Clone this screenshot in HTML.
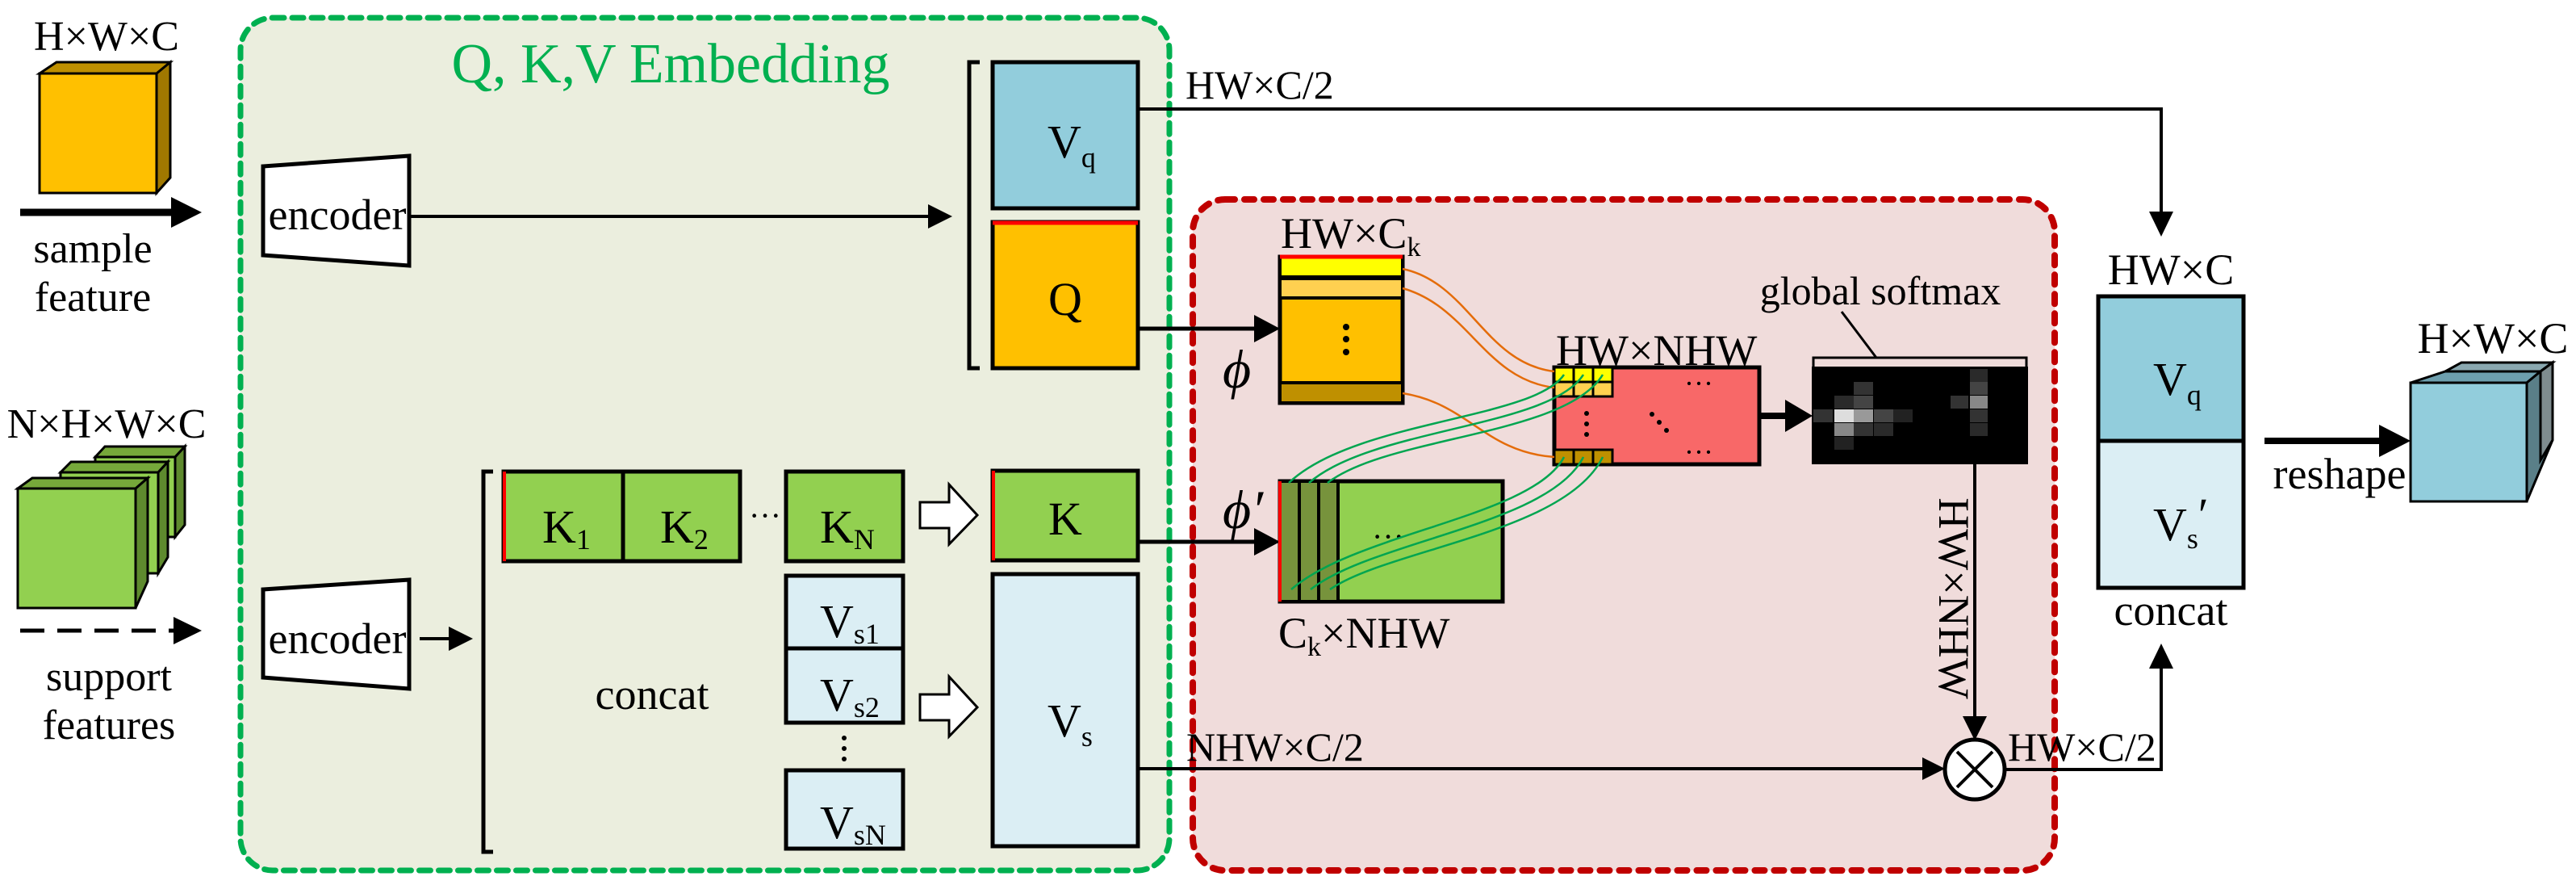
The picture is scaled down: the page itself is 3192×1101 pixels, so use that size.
<!DOCTYPE html>
<html><head><meta charset="utf-8"><style>
html,body{margin:0;padding:0;background:#fff;}
svg{display:block;}
svg text{font-family:"Liberation Serif","DejaVu Serif",serif;fill:#000;}
</style></head><body>
<svg width="3192" height="1101" viewBox="0 0 3192 1101" xmlns="http://www.w3.org/2000/svg">
<rect x="298" y="22" width="1151" height="1056" rx="40" fill="#ebeede" stroke="#00b050" stroke-width="7" stroke-dasharray="14,10" stroke-linecap="round"/>
<rect x="1478" y="247" width="1068" height="831" rx="40" fill="#f0dcdb" stroke="#c00000" stroke-width="8" stroke-dasharray="12,12" stroke-linecap="round"/>
<text x="831" y="102" font-size="70" text-anchor="middle" style="fill:#00b050">Q, K,V Embedding</text>

<polygon points="49,91 70,77 211,77 194,91" fill="#bf9000" stroke="#000" stroke-width="3"/>
<polygon points="194,91 211,77 211,220 194,239" fill="#a07800" stroke="#000" stroke-width="3"/>
<rect x="49" y="91" width="145" height="148" fill="#ffc000" stroke="#000" stroke-width="3"/>
<text x="132" y="62" font-size="52" text-anchor="middle">H×W×C</text>
<line x1="25" y1="263" x2="215" y2="263" stroke="#000" stroke-width="9"/>
<polygon points="250,263 212,244 212,282" fill="#000"/>
<text x="115" y="325" font-size="52" text-anchor="middle">sample</text>
<text x="115" y="385" font-size="52" text-anchor="middle">feature</text>

<text x="132" y="542" font-size="52" text-anchor="middle">N×H×W×C</text>
<g stroke="#000" stroke-width="3">
<polygon points="118,566 130,553 229,553 217,566" fill="#76a83a"/>
<polygon points="217,566 229,553 229,650 217,665" fill="#5e8a2e"/>
<rect x="118" y="566" width="99" height="99" fill="#92d050"/>
<polygon points="75,585 88,572 208,572 196,585" fill="#76a83a"/>
<polygon points="196,585 208,572 208,690 196,710" fill="#5e8a2e"/>
<rect x="75" y="585" width="121" height="125" fill="#92d050"/>
<polygon points="22,605 40,592 183,592 168,605" fill="#76a83a"/>
<polygon points="168,605 183,592 183,720 168,753" fill="#5e8a2e"/>
<rect x="22" y="605" width="146" height="148" fill="#92d050"/>
</g>
<line x1="25" y1="781" x2="215" y2="781" stroke="#000" stroke-width="5" stroke-dasharray="30,16"/>
<polygon points="250,781 215,764 215,798" fill="#000"/>
<text x="135" y="855" font-size="52" text-anchor="middle">support</text>
<text x="135" y="915" font-size="52" text-anchor="middle">features</text>

<polygon points="326,206 507,193 507,329 326,316" fill="#fff" stroke="#000" stroke-width="5"/>
<text x="418" y="284" font-size="54" text-anchor="middle">encoder</text>
<polygon points="326,730 507,718 507,853 326,839" fill="#fff" stroke="#000" stroke-width="5"/>
<text x="418" y="809" font-size="54" text-anchor="middle">encoder</text>
<line x1="507" y1="268" x2="1150" y2="268" stroke="#000" stroke-width="4"/>
<polygon points="1180,268 1150,253 1150,283" fill="#000"/>
<line x1="520" y1="791" x2="560" y2="791" stroke="#000" stroke-width="4"/>
<polygon points="586,791 556,776 556,806" fill="#000"/>

<polyline points="1214,77 1201,77 1201,456 1214,456" fill="none" stroke="#000" stroke-width="5"/>
<polyline points="611,584 599,584 599,1055 611,1055" fill="none" stroke="#000" stroke-width="5"/>

<rect x="1230" y="77" width="180" height="181" fill="#92cddc" stroke="#000" stroke-width="5"/>
<text x="1298" y="195" font-size="58">V<tspan font-size="36" dy="12">q</tspan></text>
<rect x="1230" y="275" width="180" height="181" fill="#ffc000" stroke="#000" stroke-width="5"/>
<line x1="1230" y1="276" x2="1410" y2="276" stroke="#ff0000" stroke-width="5"/>
<text x="1320" y="390" font-size="58" text-anchor="middle">Q</text>

<rect x="624" y="584" width="148" height="111" fill="#92d050" stroke="#000" stroke-width="5"/>
<rect x="772" y="584" width="145" height="111" fill="#92d050" stroke="#000" stroke-width="5"/>
<line x1="625" y1="584" x2="625" y2="695" stroke="#ff0000" stroke-width="4"/>
<text x="672" y="672" font-size="58">K<tspan font-size="36" dy="8">1</tspan></text>
<text x="818" y="672" font-size="58">K<tspan font-size="36" dy="8">2</tspan></text>
<text x="948" y="652" font-size="40" text-anchor="middle">···</text>
<rect x="974" y="584" width="145" height="111" fill="#92d050" stroke="#000" stroke-width="5"/>
<text x="1016" y="672" font-size="58">K<tspan font-size="36" dy="8">N</tspan></text>
<rect x="974" y="713" width="145" height="90" fill="#dbeef4" stroke="#000" stroke-width="5"/>
<rect x="974" y="803" width="145" height="92" fill="#dbeef4" stroke="#000" stroke-width="5"/>
<rect x="974" y="954" width="145" height="97" fill="#dbeef4" stroke="#000" stroke-width="5"/>
<text x="1016" y="789" font-size="58">V<tspan font-size="36" dy="8">s1</tspan></text>
<text x="1016" y="880" font-size="58">V<tspan font-size="36" dy="8">s2</tspan></text>
<text x="1016" y="1038" font-size="58">V<tspan font-size="36" dy="8">sN</tspan></text>
<circle cx="1046" cy="914" r="3" fill="#000"/><circle cx="1046" cy="927" r="3" fill="#000"/><circle cx="1046" cy="940" r="3" fill="#000"/>
<text x="808" y="878" font-size="54" text-anchor="middle">concat</text>

<polygon points="1140,622 1176,622 1176,600 1211,638 1176,674 1176,654 1140,654" fill="#fff" stroke="#000" stroke-width="3"/>
<polygon points="1140,860 1176,860 1176,838 1211,876 1176,912 1176,892 1140,892" fill="#fff" stroke="#000" stroke-width="3"/>

<rect x="1230" y="583" width="180" height="111" fill="#92d050" stroke="#000" stroke-width="5"/>
<line x1="1231" y1="583" x2="1231" y2="694" stroke="#ff0000" stroke-width="4"/>
<text x="1320" y="662" font-size="58" text-anchor="middle">K</text>
<rect x="1230" y="711" width="180" height="337" fill="#dbeef4" stroke="#000" stroke-width="5"/>
<text x="1298" y="912" font-size="58">V<tspan font-size="36" dy="12">s</tspan></text>

<polyline points="1410,135 2678,135 2678,270" fill="none" stroke="#000" stroke-width="4"/>
<polygon points="2678,293 2663,262 2693,262" fill="#000"/>
<text x="1469" y="122" font-size="50">HW×C/2</text>

<line x1="1410" y1="407" x2="1556" y2="407" stroke="#000" stroke-width="5"/>
<polygon points="1586,407 1554,390 1554,424" fill="#000"/>
<text x="1515" y="480" font-size="68" font-style="italic">ϕ</text>
<line x1="1410" y1="671" x2="1556" y2="671" stroke="#000" stroke-width="5"/>
<polygon points="1586,671 1554,654 1554,688" fill="#000"/>
<text x="1515" y="654" font-size="68" font-style="italic">ϕ′</text>

<text x="1587" y="307" font-size="54">HW×C<tspan font-size="34" dy="10">k</tspan></text>
<rect x="1586" y="318" width="152" height="181" fill="#ffc000" stroke="#000" stroke-width="5"/>
<rect x="1586" y="318" width="152" height="25" fill="#ffff00" stroke="#000" stroke-width="4"/>
<rect x="1586" y="345" width="152" height="24" fill="#ffd050" stroke="#000" stroke-width="4"/>
<rect x="1586" y="474" width="152" height="25" fill="#bf9000" stroke="#000" stroke-width="4"/>
<line x1="1586" y1="318" x2="1738" y2="318" stroke="#ff0000" stroke-width="5"/>
<circle cx="1668" cy="405" r="4" fill="#000"/><circle cx="1668" cy="420" r="4" fill="#000"/><circle cx="1668" cy="436" r="4" fill="#000"/>

<rect x="1586" y="596" width="276" height="149" fill="#92d050" stroke="#000" stroke-width="5"/>
<rect x="1586" y="596" width="24" height="149" fill="#77933c" stroke="#000" stroke-width="4"/>
<rect x="1610" y="596" width="24" height="149" fill="#77933c" stroke="#000" stroke-width="4"/>
<rect x="1634" y="596" width="24" height="149" fill="#77933c" stroke="#000" stroke-width="4"/>
<line x1="1586" y1="596" x2="1586" y2="745" stroke="#ff0000" stroke-width="4"/>
<text x="1720" y="678" font-size="40" text-anchor="middle">···</text>
<text x="1584" y="802" font-size="54">C<tspan font-size="34" dy="10">k</tspan><tspan dy="-10">×NHW</tspan></text>

<text x="1928" y="452" font-size="54">HW×NHW</text>
<rect x="1926" y="455" width="254" height="120" fill="#f86868" stroke="#000" stroke-width="5"/>
<g stroke="#000" stroke-width="3">
<rect x="1926" y="455" width="24" height="18" fill="#ffff00"/><rect x="1950" y="455" width="24" height="18" fill="#ffff00"/><rect x="1974" y="455" width="24" height="18" fill="#ffff00"/>
<rect x="1926" y="473" width="24" height="18" fill="#ffd050"/><rect x="1950" y="473" width="24" height="18" fill="#ffd050"/><rect x="1974" y="473" width="24" height="18" fill="#ffd050"/>
<rect x="1926" y="557" width="24" height="18" fill="#bf9000"/><rect x="1950" y="557" width="24" height="18" fill="#bf9000"/><rect x="1974" y="557" width="24" height="18" fill="#bf9000"/>
</g>
<text x="2105" y="487" font-size="36" text-anchor="middle">···</text>
<text x="2105" y="572" font-size="36" text-anchor="middle">···</text>
<circle cx="1966" cy="512" r="3" fill="#000"/><circle cx="1966" cy="525" r="3" fill="#000"/><circle cx="1966" cy="538" r="3" fill="#000"/>
<circle cx="2047" cy="513" r="3" fill="#000"/><circle cx="2056" cy="523" r="3" fill="#000"/><circle cx="2065" cy="533" r="3" fill="#000"/>

<g fill="none" stroke="#e46c0a" stroke-width="2.5">
<path d="M1738,333 C1820,350 1840,450 1926,460"/>
<path d="M1738,357 C1820,380 1840,470 1926,480"/>
<path d="M1738,487 C1820,500 1840,560 1926,566"/>
</g>
<g fill="none" stroke="#00a550" stroke-width="2.5">
<path d="M1597,598 C1680,520 1900,520 1938,464"/>
<path d="M1622,598 C1700,530 1920,530 1962,464"/>
<path d="M1645,598 C1720,540 1940,540 1986,464"/>
<path d="M1600,730 C1680,660 1900,640 1938,566"/>
<path d="M1624,730 C1700,670 1920,650 1962,566"/>
<path d="M1648,730 C1720,680 1940,660 1986,566"/>
</g>

<line x1="2180" y1="515" x2="2218" y2="515" stroke="#000" stroke-width="8"/>
<polygon points="2246,515 2212,495 2212,535" fill="#000"/>

<rect x="2245" y="454" width="268" height="121" fill="#000"/>
<rect x="2297" y="473" width="24" height="16" fill="#333"/>
<rect x="2273" y="490" width="24" height="16" fill="#2a2a2a"/><rect x="2297" y="490" width="24" height="16" fill="#444"/>
<rect x="2247" y="507" width="24" height="16" fill="#333"/><rect x="2273" y="507" width="24" height="16" fill="#ddd"/><rect x="2297" y="507" width="24" height="16" fill="#999"/><rect x="2322" y="507" width="24" height="16" fill="#444"/><rect x="2346" y="507" width="24" height="16" fill="#222"/>
<rect x="2273" y="524" width="24" height="16" fill="#888"/><rect x="2297" y="524" width="24" height="16" fill="#333"/><rect x="2322" y="524" width="24" height="16" fill="#2a2a2a"/>
<rect x="2273" y="541" width="24" height="16" fill="#222"/>
<rect x="2441" y="457" width="22" height="16" fill="#2a2a2a"/>
<rect x="2441" y="473" width="22" height="16" fill="#444"/>
<rect x="2417" y="490" width="22" height="16" fill="#333"/><rect x="2441" y="490" width="22" height="16" fill="#888"/>
<rect x="2441" y="507" width="22" height="16" fill="#333"/>
<rect x="2441" y="524" width="22" height="16" fill="#2a2a2a"/>
<polyline points="2247,454 2247,443 2511,443 2511,454" fill="none" stroke="#000" stroke-width="3"/>
<line x1="2325" y1="443" x2="2282" y2="386" stroke="#000" stroke-width="3"/>
<text x="2330" y="377" font-size="50" text-anchor="middle">global softmax</text>

<line x1="2447" y1="575" x2="2447" y2="895" stroke="#000" stroke-width="4"/>
<polygon points="2447,917 2432,887 2462,887" fill="#000"/>
<text x="0" y="0" font-size="54" text-anchor="middle" transform="translate(2403,741) rotate(90)">HW×NHW</text>

<line x1="1410" y1="952" x2="2388" y2="952" stroke="#000" stroke-width="4"/>
<polygon points="2410,952 2382,938 2382,966" fill="#000"/>
<text x="1470" y="942" font-size="50">NHW×C/2</text>
<circle cx="2447" cy="953" r="37" fill="#fff" stroke="#000" stroke-width="5"/>
<line x1="2425" y1="931" x2="2469" y2="975" stroke="#000" stroke-width="4"/>
<line x1="2469" y1="931" x2="2425" y2="975" stroke="#000" stroke-width="4"/>
<polyline points="2484,953 2678,953 2678,820" fill="none" stroke="#000" stroke-width="4"/>
<polygon points="2678,797 2663,828 2693,828" fill="#000"/>
<text x="2488" y="942" font-size="50">HW×C/2</text>

<text x="2690" y="352" font-size="54" text-anchor="middle">HW×C</text>
<rect x="2600" y="367" width="180" height="179" fill="#92cddc" stroke="#000" stroke-width="5"/>
<rect x="2600" y="546" width="180" height="182" fill="#dbeef4" stroke="#000" stroke-width="5"/>
<text x="2668" y="489" font-size="58">V<tspan font-size="36" dy="12">q</tspan></text>
<text x="2668" y="669" font-size="58">V<tspan font-size="36" dy="10">s</tspan><tspan dy="-22">′</tspan></text>
<text x="2690" y="774" font-size="54" text-anchor="middle">concat</text>

<line x1="2806" y1="546" x2="2950" y2="546" stroke="#000" stroke-width="8"/>
<polygon points="2987,546 2948,526 2948,566" fill="#000"/>
<text x="2899" y="605" font-size="54" text-anchor="middle">reshape</text>
<text x="3089" y="437" font-size="54" text-anchor="middle">H×W×C</text>
<g stroke="#000" stroke-width="3">
<polygon points="2987,474 3030,460 3148,460 3131,474" fill="#6d9fae"/>
<polygon points="3030,460 3050,449 3163,449 3148,460" fill="#8aa8b0"/>
<polygon points="3131,474 3148,460 3163,449 3163,545 3131,621" fill="#5a7f88"/>
<polygon points="3148,460 3163,449 3163,545 3148,570" fill="#7f8c8f"/>
<rect x="2987" y="474" width="144" height="147" fill="#92cddc"/>
</g>
</svg>
</body></html>
